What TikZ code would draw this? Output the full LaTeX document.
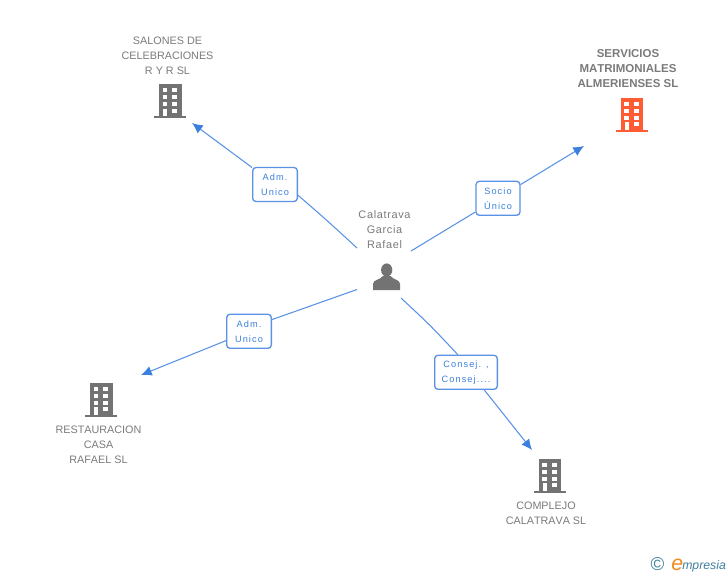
\documentclass[tikz,border=0pt]{standalone}
\usepackage{fontspec}
\setmainfont{Liberation Sans}
\newfontfamily\namefont[Kerning=Off]{Liberation Sans}
\newfontfamily\personfont[Kerning=Off,LetterSpace=6]{Liberation Sans}
\newfontfamily\tagfont[LetterSpace=12]{Liberation Sans}
\usetikzlibrary{arrows.meta}

\definecolor{greyicon}{HTML}{737373}
\definecolor{greytext}{HTML}{7A7A7A}
\definecolor{orangeicon}{HTML}{FF5C33}
\definecolor{bluelink}{HTML}{5A93E6}
\definecolor{bluetext}{HTML}{3B80DE}
\definecolor{logoblue}{HTML}{3F7F9F}
\definecolor{logoorange}{HTML}{F08A1D}

\tikzset{
  company/.style={align=center, inner sep=0pt, text=greytext, font=\namefont\fontsize{8.1}{11.25}\selectfont},
  tag/.style={draw=bluelink, fill=white, line width=1pt, rounded corners=2.5pt, align=center, inner sep=0pt,
    minimum height=25.5pt, text=bluetext, font=\tagfont\fontsize{6.9}{11.25}\selectfont},
  link/.style={draw=bluelink, line width=.8pt},
  arrow/.style={link, -{Latex[length=8pt, width=7.5pt, color=bluetext]}}
}

% Building icon: centre, colour
\newcommand{\buildingicon}[2]{
  \begin{scope}[shift={#1}]
    \fill[#2] (-11,-17) rectangle (11.5,15);
    \fill[#2] (-16,15) rectangle (16,17);
    \foreach \row in {-13,-6,1} {
      \fill[white] (-7.5,\row) rectangle (-3,\row+4);
      \fill[white] (2,\row) rectangle (7,\row+4);
    }
    \fill[white] (-7,7.5) rectangle (-3,15);
    \fill[white] (2,7.5) rectangle (7,11.5);
  \end{scope}
}

\begin{document}
\begin{tikzpicture}[x=.75pt, y=-.75pt]
\useasboundingbox (0,0) rectangle (728,575);

% Company names
\node[company] (salones) at (167.5,55.5) {SALONES DE\\CELEBRACIONES\\R Y R SL};
\node[company, font=\namefont\fontsize{8.6}{11.25}\selectfont\bfseries] (servicios) at (628,69) {SERVICIOS\\MATRIMONIALES\\ALMERIENSES SL};
\node[company] (restauracion) at (98.5,444.5) {RESTAURACION\\CASA\\RAFAEL SL};
\node[company] (complejo) at (546,513) {COMPLEJO\\CALATRAVA SL};
\node[company, font=\personfont\fontsize{8.2}{11.25}\selectfont] (calatrava) at (384.5,229.5) {Calatrava\\Garcia\\Rafael};

% Icons
\buildingicon{(170,101)}{greyicon}
\buildingicon{(631.5,114.7)}{orangeicon}
\buildingicon{(101,399.7)}{greyicon}
\buildingicon{(549.5,475.7)}{greyicon}

% Person icon
\fill[greyicon] (386.7,270) ellipse [x radius=5.6, y radius=6.6];
\fill[greyicon] (373,290) -- (373,284) .. controls (373,279.5) and (380,280) .. (383,276)
  -- (390.5,276) .. controls (393.5,280) and (400,279.5) .. (400,284) -- (400,290) -- cycle;

% Tags
\node[tag, minimum width=33.5pt] (admsalones) at (275,184.5) {Adm.\\Unico};
\node[tag, minimum width=33pt] (socio) at (498,198.3) {Socio\\Único};
\node[tag, minimum width=33.5pt] (admcasa) at (249,331.3) {Adm.\\Unico};
\node[tag, minimum width=47pt] (consej) at (466,372.3) {Consej. ,\\Consej....};

% Free ends of the links
\coordinate (fromA) at (357,248);
\coordinate (fromB) at (411,251);
\coordinate (fromC) at (357,289.5);
\coordinate (fromD) at (401,298);
\coordinate (tipA) at (192,123);
\coordinate (tipB) at (584,146);
\coordinate (tipC) at (141,375);
\coordinate (tipD) at (532,450);

% Links
\draw[link] (fromA) .. controls (326,219.5) .. (admsalones.-25);
\draw[arrow] (admsalones) -- (tipA);
\draw[link] (fromB) -- (socio);
\draw[arrow] (socio) -- (tipB);
\draw[link] (fromC) .. controls (314,304) .. (admcasa.27);
\draw[arrow] (admcasa) -- (tipC);
\draw[link] (fromD) .. controls (430,325) .. (consej.115);
\draw[arrow] (consej.-44) -- (tipD);

% Logo
\node[inner sep=0pt, text=logoblue, font=\fontsize{14}{14}\selectfont] (copyright) at (657.5,564) {©};
\node[inner sep=0pt, anchor=base west, text=logoorange, font=\fontsize{16}{16}\selectfont\itshape] (logoe) at (671,570) {e};
\node[inner sep=0pt, anchor=base west, text=logoblue, font=\fontsize{9.2}{10}\selectfont\itshape] (logotext) at (682,569) {mpresia};

\end{tikzpicture}
\end{document}
